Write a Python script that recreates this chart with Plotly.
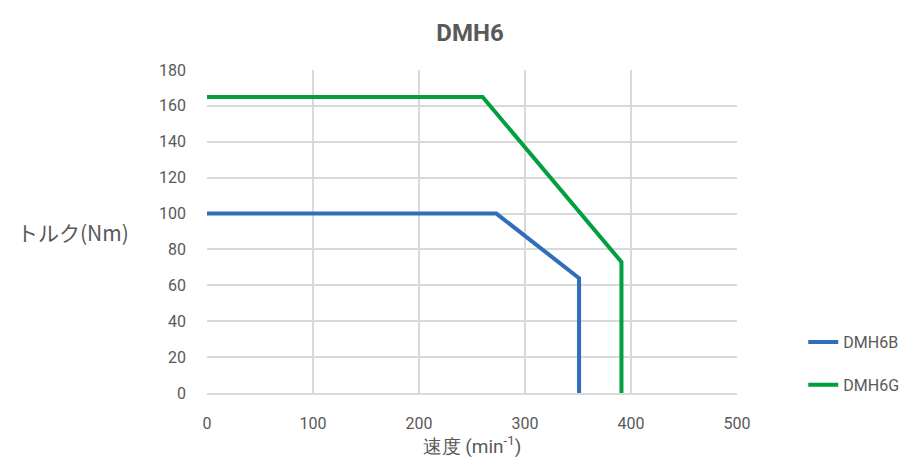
import plotly.graph_objects as go

speed_b = [0, 273, 351, 351]
torque_b = [100, 100, 64, 0]
speed_g = [0, 260, 391, 391]
torque_g = [165, 165, 73, 0]
series_names = ["DMH6B", "DMH6G"]
colors = ["#2F6EBA", "#00A040"]

FONT = "Roboto, Noto Sans, sans-serif"
GRAY = "#595959"

fig = go.Figure()
for i, (xs, ys) in enumerate([(speed_b, torque_b), (speed_g, torque_g)]):
    fig.add_trace(go.Scatter(x=xs, y=ys, mode="lines", name=series_names[i],
                             legendgroup=series_names[i],
                             line=dict(color=colors[i], width=4)))

W, H = 915, 462
fig.update_layout(
    width=W, height=H,
    margin=dict(l=199, r=186, t=62, b=77),
    paper_bgcolor="white", plot_bgcolor="white",
    font=dict(family=FONT, size=16, color=GRAY),
    title=dict(text="<b>DMH6</b>", x=(470 - 8) / W, xanchor="center",
               y=1 - (33 - 8) / H, yanchor="middle",
               font=dict(size=24, color=GRAY, family=FONT)),
    xaxis=dict(range=[0, 500], tickvals=[0, 100, 200, 300, 400, 500],
               showgrid=True, gridcolor="#D9D9D9", gridwidth=1.5,
               zeroline=False, showline=True, linecolor="#D9D9D9", linewidth=1.5,
               ticks="", ticklabelstandoff=15, tickfont=dict(size=16, color=GRAY),
               title=dict(text="速度 (min<sup>-1</sup>)", standoff=0,
                          font=dict(size=19, color=GRAY))),
    yaxis=dict(range=[0, 180], tickvals=list(range(0, 181, 20)),
               showgrid=True, gridcolor="#D9D9D9", gridwidth=1.5,
               zeroline=False, showline=False, ticks="",
               ticklabelstandoff=20,
               tickfont=dict(size=16, color=GRAY)),
    legend=dict(x=1.125, xanchor="left", y=0.21, yanchor="top",
                traceorder="grouped", tracegroupgap=19,
                font=dict(size=16, color=GRAY), bgcolor="rgba(0,0,0,0)"),
    showlegend=True,
)
fig.add_annotation(text="トルク(Nm)", xref="paper", yref="paper",
                   x=-(207 - 131) / 530, xanchor="right", y=(393 - 232) / 323,
                   yanchor="middle", showarrow=False,
                   font=dict(size=21, color=GRAY, family="Noto Sans CJK JP, " + FONT))

fig.write_html("out.html")
